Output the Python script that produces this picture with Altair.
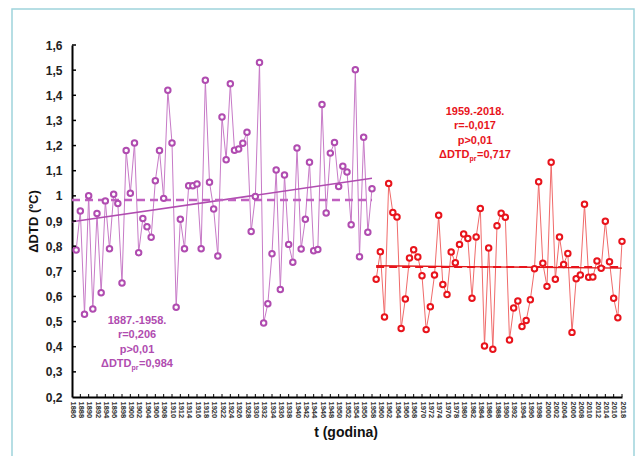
import altair as alt
import pandas as pd

# Daily temperature range anomaly (ΔDTD, ºC) per year, two periods
years_early = list(range(1887, 1959))
dtd_early = [
    0.785, 0.94, 0.529, 1.0, 0.55, 0.93, 0.615, 0.98, 0.79, 1.006,
    0.97, 0.653, 1.18, 1.01, 1.21, 0.774, 0.91, 0.877, 0.835, 1.06,
    1.18, 0.99, 1.42, 1.21, 0.557, 0.907, 0.79, 1.04, 1.04, 1.047,
    0.79, 1.46, 1.054, 0.948, 0.761, 1.314, 1.144, 1.446, 1.181, 1.186,
    1.209, 1.253, 0.858, 0.997, 1.53, 0.494, 0.571, 0.77, 1.103, 0.628,
    1.083, 0.807, 0.736, 1.19, 0.789, 0.907, 1.134, 0.782, 0.787, 1.363,
    0.932, 1.17, 1.212, 1.037, 1.118, 1.095, 0.885, 1.502, 0.758, 1.233,
    0.855, 1.028,
]
years_late = list(range(1959, 2019))
dtd_late = [
    0.668, 0.778, 0.518, 1.049, 0.934, 0.916, 0.472, 0.59, 0.753, 0.786,
    0.757, 0.682, 0.468, 0.559, 0.685, 0.923, 0.647, 0.608, 0.777, 0.734,
    0.807, 0.848, 0.83, 0.593, 0.836, 0.95, 0.403, 0.793, 0.39, 0.881,
    0.931, 0.915, 0.427, 0.554, 0.582, 0.48, 0.504, 0.587, 0.71, 1.056,
    0.732, 0.64, 1.134, 0.668, 0.836, 0.727, 0.771, 0.457, 0.67, 0.685,
    0.967, 0.676, 0.677, 0.741, 0.712, 0.899, 0.738, 0.593, 0.515, 0.819,
]

# Period means as stated in the annotations
mean_early = 0.984
mean_late = 0.717

y_ticks = [0.2, 0.3, 0.4, 0.5, 0.6, 0.7, 0.8, 0.9, 1.0, 1.1, 1.2, 1.3, 1.4, 1.5, 1.6]
x_ticks = list(range(1886, 2019, 2))

W, H = 550, 352
FONT = "Liberation Sans"
PURPLE = "#b04cb0"
PURPLE_LINE = "#c77ac7"
RED = "#e8141c"
RED_LINE = "#f06a6a"

early = pd.DataFrame({"year": years_early, "dtd": dtd_early})
late = pd.DataFrame({"year": years_late, "dtd": dtd_late})
one = pd.DataFrame({"k": [0]})

x_scale = alt.Scale(domain=[1886, 2018], nice=False, zero=False)
y_scale = alt.Scale(domain=[0.2, 1.6], nice=False, zero=False)

x_axis = alt.Axis(
    values=x_ticks, format="d", labelAngle=90, labelFontSize=7.5,
    labelFontWeight="bold", labelColor="#333", labelFont=FONT,
    labelOverlap=False, labelFlush=False, labelPadding=4,
    tickSize=0, domainColor="black", domainWidth=2, grid=False,
    title="t (godina)", titleFont=FONT, titleFontSize=14, titleFontWeight="bold",
    titleColor="#111", titleX=273.5, titleY=35, titleBaseline="middle",
)
y_axis = alt.Axis(
    values=y_ticks,
    labelExpr="datum.value == 1 ? '1' : replace(format(datum.value, '.1f'), '.', ',')",
    labelFontSize=12, labelFontWeight="bold", labelColor="#222", labelFont=FONT,
    labelPadding=10, labelOverlap=False,
    tickSize=0, domainColor="black", domainWidth=2, grid=False,
    title="ΔDTD (ºC)", titleFont=FONT, titleFontSize=13, titleFontWeight="bold",
    titleColor="#111", titleX=-39, titleY=H / 2, titleAngle=-90,
    titleAlign="center", titleBaseline="middle",
)

X = alt.X("year:Q", scale=x_scale, axis=x_axis)
Y = alt.Y("dtd:Q", scale=y_scale, axis=y_axis)

# Outer frame
frame = alt.Chart(one).mark_rect(fill=None, stroke="#9fd4dc", strokeWidth=1.5).encode(
    x=alt.value(-60), x2=alt.value(562), y=alt.value(-36), y2=alt.value(H + 80)
)

# Inward tick marks
yt = alt.Chart(pd.DataFrame({"dtd": y_ticks[1:]})).mark_rule(color="black", strokeWidth=1.5).encode(
    y=Y, x=alt.value(0), x2=alt.value(4)
)
xt = alt.Chart(pd.DataFrame({"year": x_ticks[1:]})).mark_rule(color="black", strokeWidth=1).encode(
    x=X, y=alt.value(H), y2=alt.value(H - 3)
)

line_early = alt.Chart(early).mark_line(color=PURPLE_LINE, strokeWidth=1).encode(x=X, y=Y)
pts_early = alt.Chart(early).mark_point(
    shape="circle", filled=False, fill="white", fillOpacity=1, color=PURPLE,
    strokeWidth=2, size=30, opacity=1
).encode(x=X, y=Y)

line_late = alt.Chart(late).mark_line(color=RED_LINE, strokeWidth=1).encode(x=X, y=Y)
pts_late = alt.Chart(late).mark_point(
    shape="circle", filled=False, fill="white", fillOpacity=1, color=RED,
    strokeWidth=2, size=30, opacity=1
).encode(x=X, y=Y)

# Linear trends
trend_early = alt.Chart(early).transform_regression(
    "year", "dtd", extent=[1886, 1958]
).mark_line(color=PURPLE, strokeWidth=1.5).encode(x=X, y=Y)
trend_late = alt.Chart(late).transform_regression(
    "year", "dtd", extent=[1959, 2018]
).mark_line(color="#e01818", strokeWidth=1.3).encode(x=X, y=Y)

# Period means
mean_df_early = pd.DataFrame({"year": [1886], "x1": [1958], "dtd": [mean_early]})
mean_df_late = pd.DataFrame({"year": [1959], "x1": [2018], "dtd": [mean_late]})
mean_e = alt.Chart(mean_df_early).mark_rule(
    color="#c060c0", strokeWidth=2.5, strokeDash=[8, 5]
).encode(x=X, x2="x1:Q", y=Y)
mean_l = alt.Chart(mean_df_late).mark_rule(
    color=RED, strokeWidth=2, strokeDash=[8, 5]
).encode(x=X, x2="x1:Q", y=Y)


def block(lines, pr_value, cx, y0, color):
    """Stacked statistics text with a subscripted ΔDTD_pr line."""
    step = 14.5
    out = []
    for i, t in enumerate(lines):
        out.append(alt.Chart(one).mark_text(
            text=t, font=FONT, fontSize=11, fontWeight="bold", color=color,
            align="center", baseline="middle"
        ).encode(x=alt.value(cx), y=alt.value(y0 + i * step)))
    yl = y0 + len(lines) * step
    # "ΔDTD" + subscript "pr" + "=value"
    left = cx - 36
    out.append(alt.Chart(one).mark_text(
        text="ΔDTD", font=FONT, fontSize=11, fontWeight="bold", color=color,
        align="left", baseline="middle"
    ).encode(x=alt.value(left), y=alt.value(yl)))
    out.append(alt.Chart(one).mark_text(
        text="pr", font=FONT, fontSize=7, fontWeight="bold", color=color,
        align="left", baseline="middle"
    ).encode(x=alt.value(left + 30.5), y=alt.value(yl + 3.5)))
    out.append(alt.Chart(one).mark_text(
        text="=" + pr_value, font=FONT, fontSize=11, fontWeight="bold", color=color,
        align="left", baseline="middle"
    ).encode(x=alt.value(left + 38), y=alt.value(yl)))
    return out


txt_early = block(["1887.-1958.", "r=0,206", "p>0,01"], "0,984", 65, 275.5, PURPLE)
txt_late = block(["1959.-2018.", "r=-0,017", "p>0,01"], "0,717", 403, 66.7, RED)

chart = alt.layer(
    frame, line_early, line_late, trend_early, trend_late, mean_e, mean_l,
    pts_early, pts_late, yt, xt, *txt_early, *txt_late
).properties(
    width=W, height=H,
    padding={"left": 72, "top": 45, "right": 15, "bottom": 59},
    autosize=alt.AutoSizeParams(type="none"),
    background="white",
).configure_view(stroke=None)

chart.save("out.html", embed_options={"renderer": "svg", "actions": False})
